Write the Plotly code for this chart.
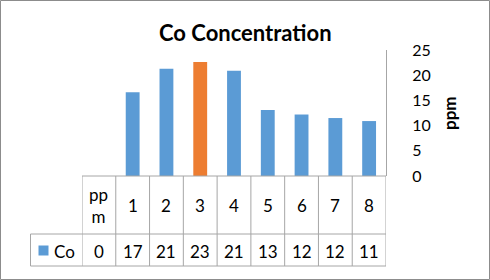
import plotly.graph_objects as go

categories = ["ppm", "1", "2", "3", "4", "5", "6", "7", "8"]
category_labels = ["pp<br>m", "1", "2", "3", "4", "5", "6", "7", "8"]
co_values = [0, 16.6, 21.3, 22.6, 20.9, 13.1, 12.2, 11.5, 10.9]
highlight_index = 3
series_name = "Co"
y_ticks = [0, 5, 10, 15, 20, 25]
title_text = "Co Concentration"
y_title = "ppm"

BLUE = "#5B9BD5"
ORANGE = "#ED7D31"
GRID = "#A6A6A6"
FONT = "Lato, Carlito, Calibri, sans-serif"

W, H = 490, 280
ML, MR, MT, MB = 82, 104, 50, 104
PW, PH = W - ML - MR, H - MT - MB

def px(x):
    return (x - ML) / PW

def py(y):
    return (H - MB - y) / PH

def half_up(v):
    return int(v + 0.5)

colors = [ORANGE if i == highlight_index else BLUE for i in range(len(categories))]
xs = list(range(len(categories)))

fig = go.Figure()
fig.add_trace(go.Bar(x=xs, y=co_values, marker=dict(color=colors, line=dict(width=0)),
                     width=0.41, name=series_name, showlegend=False, hoverinfo="skip"))

shapes = []
annotations = []
row1_top, row1_bot, row2_bot = 176, 234, 266
legend_left = 30.5
n = len(categories)
for y0, full in [(row1_top, True), (row1_bot, False), (row2_bot, False)]:
    shapes.append(dict(type="line", xref="paper", yref="paper",
                       x0=0 if full else px(legend_left), x1=1, y0=py(y0), y1=py(y0),
                       line=dict(color=GRID, width=1)))
for i in range(n + 1):
    xb = i - 0.5
    shapes.append(dict(type="line", xref="x", yref="paper", x0=xb, x1=xb, y0=py(row1_top), y1=py(row2_bot),
                       line=dict(color=GRID, width=1)))
shapes.append(dict(type="line", xref="paper", yref="paper", x0=px(legend_left), x1=px(legend_left),
                   y0=py(row1_bot), y1=py(row2_bot), line=dict(color=GRID, width=1)))
shapes.append(dict(type="rect", xref="paper", yref="paper", x0=px(38.5), x1=px(48.5), y0=py(255.5), y1=py(245.5),
                   fillcolor=BLUE, line=dict(width=0)))
shapes.append(dict(type="rect", xref="paper", yref="paper", x0=px(0.5), x1=px(489.5), y0=py(279.5), y1=py(0.5),
                   line=dict(color="#8C8C8C", width=1), fillcolor="rgba(0,0,0,0)"))

TXT = dict(family=FONT, size=17, color="#000")
for i, (lab, v) in enumerate(zip(category_labels, co_values)):
    annotations.append(dict(x=i, y=py((row1_top + row1_bot) / 2), xref="x", yref="paper", text=lab,
                            showarrow=False, font=TXT, xanchor="center", yanchor="middle"))
    annotations.append(dict(x=i, y=py((row1_bot + row2_bot) / 2 + 1), xref="x", yref="paper", text=str(half_up(v)),
                            showarrow=False, font=TXT, xanchor="center", yanchor="middle"))
annotations.append(dict(x=px(52), y=py(251), xref="paper", yref="paper", text=series_name, showarrow=False,
                        font=TXT, xanchor="left", yanchor="middle"))
annotations.append(dict(x=px(449), y=py(113), xref="paper", yref="paper", text="<b>" + y_title + "</b>",
                        showarrow=False, textangle=-90, font=dict(family=FONT, size=17, color="#000"),
                        xanchor="center", yanchor="middle"))
annotations.append(dict(x=px(245), y=py(32), xref="paper", yref="paper", text="<b>" + title_text + "</b>",
                        showarrow=False, font=dict(family=FONT, size=22, color="#000"),
                        xanchor="center", yanchor="middle"))

fig.update_layout(
    width=W, height=H,
    margin=dict(l=ML, r=MR, t=MT, b=MB, pad=0),
    paper_bgcolor="white", plot_bgcolor="white",
    xaxis=dict(range=[-0.5, n - 0.5], showticklabels=False, showgrid=False, zeroline=False,
               showline=False, fixedrange=True),
    yaxis=dict(side="right", range=[0, 25], tickvals=y_ticks, showgrid=False, zeroline=False,
               showline=True, linecolor=GRID, linewidth=1, ticks="", ticklen=0, ticklabelstandoff=22,
               tickfont=dict(family=FONT, size=16, color="#000"), fixedrange=True),
    shapes=shapes, annotations=annotations, showlegend=False,
)

fig.write_html("out.html", config={"displayModeBar": False},
               post_script="document.body.style.margin='0';document.body.style.overflow='hidden';")
